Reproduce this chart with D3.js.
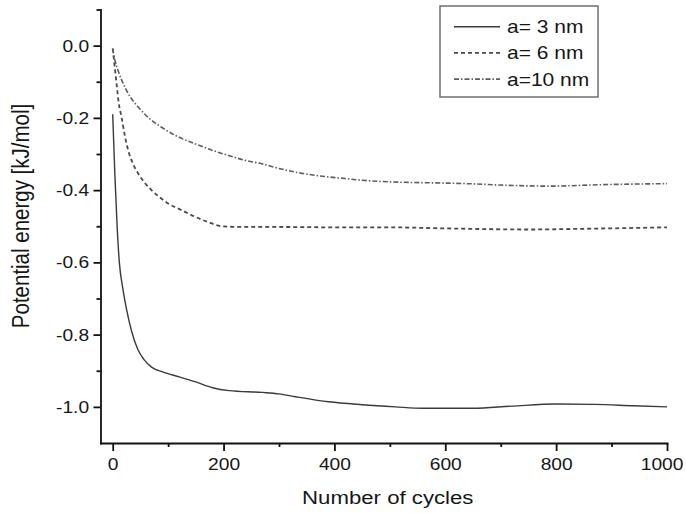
<!DOCTYPE html>
<html>
<head>
<meta charset="utf-8">
<script src="https://cdn.jsdelivr.net/npm/d3@7"></script>
<style>
body { margin: 0; background: #fff; }
text { font-family: "Liberation Sans", Arial, sans-serif; fill: #161616; }
</style>
</head>
<body>
<div id="chart"></div>
<script>
var svgWidth = 686;
var svgHeight = 513;

// data
var seriesNames = ["a= 3 nm", "a= 6 nm", "a=10 nm"];

var cycles3 = [0, 4, 8, 12, 18, 25, 34, 45, 57, 70, 90, 120, 150, 180, 210, 270, 300, 330, 390, 450, 510, 560, 650, 720, 800, 870, 940, 1000];
var energy3 = [-0.19, -0.36, -0.50, -0.60, -0.67, -0.73, -0.79, -0.84, -0.87, -0.89, -0.903, -0.917, -0.931, -0.947, -0.955, -0.960, -0.964, -0.972, -0.986, -0.994, -1.0, -1.004, -1.004, -0.998, -0.992, -0.993, -0.997, -1.0];

var cycles6 = [0, 3, 7, 11, 16, 22, 28, 36, 46, 58, 70, 85, 100, 125, 149, 175, 197, 230, 300, 400, 500, 600, 750, 850, 1000];
var energy6 = [-0.008, -0.05, -0.106, -0.16, -0.198, -0.25, -0.29, -0.325, -0.354, -0.38, -0.40, -0.42, -0.437, -0.456, -0.474, -0.49, -0.50, -0.502, -0.502, -0.503, -0.503, -0.506, -0.509, -0.507, -0.503];

var cycles10 = [0, 4, 10, 22, 33, 46, 65, 88, 115, 149, 180, 209, 240, 269, 300, 329, 370, 419, 460, 519, 580, 639, 700, 789, 880, 1000];
var energy10 = [-0.008, -0.04, -0.07, -0.115, -0.145, -0.17, -0.2, -0.226, -0.25, -0.272, -0.29, -0.304, -0.318, -0.327, -0.34, -0.35, -0.36, -0.368, -0.374, -0.378, -0.38, -0.382, -0.386, -0.389, -0.385, -0.382];

var xTicks = [0, 200, 400, 600, 800, 1000];
var xMinor = [100, 300, 500, 700, 900];
var yTicks = [0, -0.2, -0.4, -0.6, -0.8, -1.0];
var yMinor = [0.1, -0.1, -0.3, -0.5, -0.7, -0.9];

// the original picture is a bit wider than tall, so text gets stretched
var stretch = "scale(1.2,1)";

var svg = d3.select("#chart")
    .append("svg")
    .attr("width", svgWidth)
    .attr("height", svgHeight);

svg.append("rect")
    .attr("width", svgWidth)
    .attr("height", svgHeight)
    .attr("fill", "#fff");

var x = d3.scaleLinear().domain([-22, 1000]).range([100.5, 667]);
var y = d3.scaleLinear().domain([-1.1, 0.1]).range([443, 9.5]);

// curves
var series = [
    {name: seriesNames[0], data: d3.zip(cycles3, energy3), color: "#3a3a3a", width: 1.4, dash: null},
    {name: seriesNames[1], data: d3.zip(cycles6, energy6), color: "#4a4a4a", width: 1.8, dash: "4,3"},
    {name: seriesNames[2], data: d3.zip(cycles10, energy10), color: "#5e5e5e", width: 1.6, dash: "5,2,1.5,2"}
];

var line = d3.line()
    .x(d => x(d[0]))
    .y(d => y(d[1]))
    .curve(d3.curveMonotoneX);

svg.selectAll("path.curve")
    .data(series)
    .enter()
    .append("path")
    .attr("class", "curve")
    .attr("d", d => line(d.data))
    .attr("fill", "none")
    .attr("stroke", d => d.color)
    .attr("stroke-width", d => d.width)
    .attr("stroke-dasharray", d => d.dash);

// axes
var xAxis = svg.append("g")
    .attr("transform", "translate(0,443)")
    .call(d3.axisBottom(x).tickValues(xTicks).tickSize(8).tickSizeOuter(0).tickFormat(d3.format("d")));
xAxis.selectAll("text")
    .attr("x", d => d == 1000 ? -4.5 : 0)
    .attr("y", 27.5)
    .attr("dy", 0)
    .attr("transform", stretch)
    .style("font-size", "16px");

svg.append("g")
    .attr("transform", "translate(0,443)")
    .call(d3.axisBottom(x).tickValues(xMinor).tickSize(4).tickFormat(""))
    .select(".domain").remove();

var yAxis = svg.append("g")
    .attr("transform", "translate(100.5,0)")
    .call(d3.axisLeft(y).tickValues(yTicks).tickSize(7).tickSizeOuter(0).tickFormat(d3.format(".1f")));
yAxis.selectAll("text")
    .attr("x", -9.5)
    .attr("dy", "0.35em")
    .attr("transform", stretch)
    .style("font-size", "16px")
    .text(d => d3.format(".1f")(d).replace("\u2212", "-"));

svg.append("g")
    .attr("transform", "translate(100.5,0)")
    .call(d3.axisLeft(y).tickValues(yMinor).tickSize(4).tickFormat(""))
    .select(".domain").remove();

svg.selectAll(".domain, .tick line")
    .attr("stroke", "#111")
    .attr("stroke-width", 1.8);
svg.selectAll(".domain").attr("stroke-linecap", "square");

// axis labels
svg.append("text")
    .attr("transform", `translate(${(100.5 + 667) / 2 + 4}, 504) ${stretch}`)
    .attr("text-anchor", "middle")
    .style("font-size", "18.5px")
    .text("Number of cycles");

svg.append("text")
    .attr("transform", `translate(29, 216) ${stretch} rotate(-90)`)
    .attr("text-anchor", "middle")
    .style("font-size", "20.5px")
    .text("Potential energy [kJ/mol]");

// legend
var legend = svg.append("g");
legend.append("rect")
    .attr("x", 440)
    .attr("y", 6)
    .attr("width", 158)
    .attr("height", 91)
    .attr("fill", "#fff")
    .attr("stroke", "#6f6f6f")
    .attr("stroke-width", 1.5);

var rows = legend.selectAll("g.row")
    .data(series)
    .enter()
    .append("g")
    .attr("class", "row")
    .attr("transform", (d, i) => `translate(0, ${26.7 + i * 26.2})`);

rows.append("line")
    .attr("x1", 454)
    .attr("x2", 500)
    .attr("stroke", d => d.color)
    .attr("stroke-width", d => d.width)
    .attr("stroke-dasharray", d => d.dash);

rows.append("text")
    .attr("transform", `translate(507, 6.5) ${stretch}`)
    .style("font-size", "17.5px")
    .text(d => d.name);
</script>
</body>
</html>
